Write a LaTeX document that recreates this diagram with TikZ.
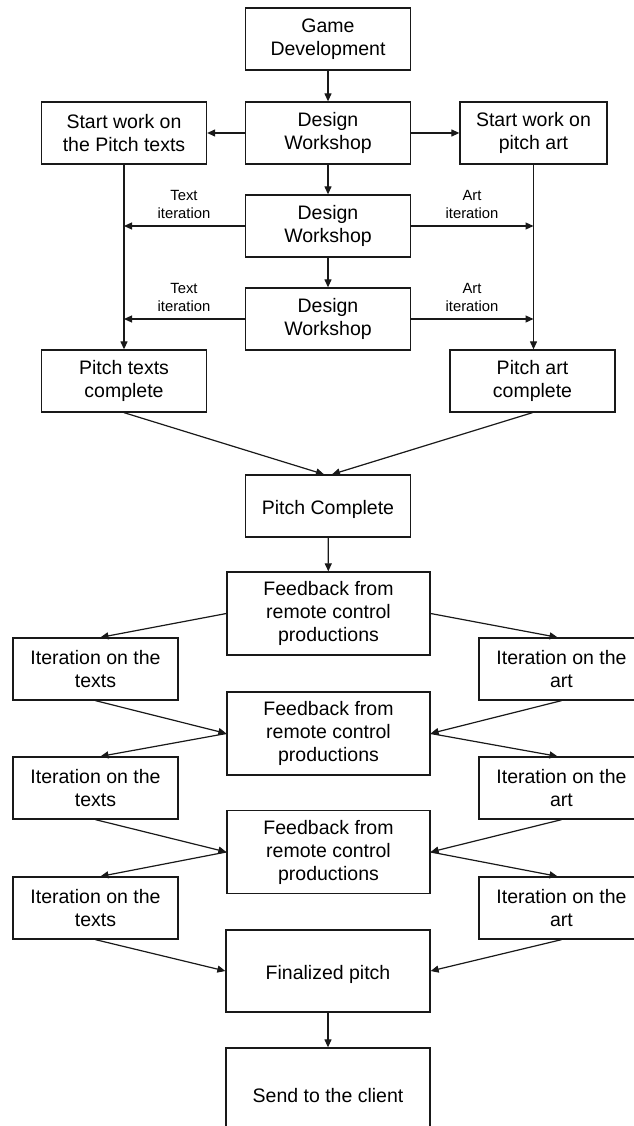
\documentclass[tikz,border=0pt]{standalone}
\usepackage{fontspec}
\setmainfont{Liberation Sans}
\usetikzlibrary{arrows.meta,calc}
\begin{document}
\begin{tikzpicture}[x=1pt,y=-1pt,
  box/.style={draw=black!90, line width=1.3pt, align=center, inner sep=0pt,
    minimum width=165pt, minimum height=62pt, font=\fontsize{19.5}{23}\selectfont,
    execute at begin node={\rule{0pt}{21pt}}},
  wide/.style={box, minimum width=203pt, minimum height=83pt},
  lbl/.style={align=center, inner sep=0pt, font=\fontsize{14.8}{18}\selectfont},
  conn/.style={line width=1.2pt, draw=black!90, -{Triangle[length=8pt,width=7pt]}}]
\useasboundingbox (0,0) rectangle (633,1126);
\fill[white] (0,0) rectangle (633,1126);

\node[box] (gd) at (328,39) {Game\\Development};
\node[box] (dw1) at (328,133) {Design\\Workshop};
\node[box] (st) at (124,133) {Start work on\\the Pitch texts};
\node[box, minimum width=147pt] (sa) at (533.5,133) {Start work on\\pitch art};
\node[box] (dw2) at (328,226) {Design\\Workshop};
\node[box] (dw3) at (328,319) {Design\\Workshop};
\node[box] (ptc) at (124,381) {Pitch texts\\complete};
\node[box] (pac) at (532.5,381) {Pitch art\\complete};
\node[box] (pc) at (328,506) {Pitch Complete};
\node[wide] (fb1) at (328.5,613.5) {Feedback from\\remote control\\productions};
\node[box] (it1) at (95.5,669) {Iteration on the\\texts};
\node[box] (ia1) at (561.5,669) {Iteration on the\\art};
\node[wide] (fb2) at (328.5,733.5) {Feedback from\\remote control\\productions};
\node[box] (it2) at (95.5,788) {Iteration on the\\texts};
\node[box] (ia2) at (561.5,788) {Iteration on the\\art};
\node[wide] (fb3) at (328.5,852) {Feedback from\\remote control\\productions};
\node[box] (it3) at (95.5,908) {Iteration on the\\texts};
\node[box] (ia3) at (561.5,908) {Iteration on the\\art};
\node[wide, minimum width=204pt, minimum height=82pt] (fin) at (328,971) {Finalized pitch};
\node[wide, minimum width=204pt, minimum height=88pt] (send) at (328,1092) {Send to the client};

\node[lbl] (tl2) at (184,204) {Text\\iteration};
\node[lbl] (al2) at (472,204) {Art\\iteration};
\node[lbl] (tl3) at (184,297) {Text\\iteration};
\node[lbl] (al3) at (472,297) {Art\\iteration};

\draw[conn] (gd) -- (dw1);
\draw[conn] (dw1) -- (st);
\draw[conn] (dw1) -- (sa);
\draw[conn] (dw1) -- (dw2);
\draw[conn] (dw2) -- (dw3);
\draw[conn] (st.south) -- (ptc.north);
\draw[conn] (sa.south) -- (sa.south |- pac.north);
\draw[conn] (dw2.west) -- (dw2.west -| st.south);
\draw[conn] (dw2.east) -- (dw2.east -| sa.south);
\draw[conn] (dw3.west) -- (dw3.west -| st.south);
\draw[conn] (dw3.east) -- (dw3.east -| sa.south);

\coordinate (pcl) at ($(pc.north)+(-4,0)$);
\coordinate (pcr) at ($(pc.north)+(4,0)$);
\draw[conn] (ptc.south) -- (pcl);
\draw[conn] (pac.south) -- (pcr);
\draw[conn] (pc) -- (fb1);

\coordinate (it1t) at ($(it1.north)+(5,0)$);
\coordinate (ia1t) at ($(ia1.north)+(-4,0)$);
\coordinate (it2t) at ($(it2.north)+(5,0)$);
\coordinate (ia2t) at ($(ia2.north)+(-4,0)$);
\coordinate (it3t) at ($(it3.north)+(5,0)$);
\coordinate (ia3t) at ($(ia3.north)+(-4,0)$);

\draw[conn] (fb1.west) -- (it1t);
\draw[conn] (fb1.east) -- (ia1t);
\draw[conn] (it1.south) -- (fb2.west);
\draw[conn] (ia1.south) -- (fb2.east);
\draw[conn] (fb2.west) -- (it2t);
\draw[conn] (fb2.east) -- (ia2t);
\draw[conn] (it2.south) -- (fb3.west);
\draw[conn] (ia2.south) -- (fb3.east);
\draw[conn] (fb3.west) -- (it3t);
\draw[conn] (fb3.east) -- (ia3t);
\draw[conn] (it3.south) -- (fin.west);
\draw[conn] (ia3.south) -- (fin.east);
\draw[conn] (fin) -- (send);
\end{tikzpicture}
\end{document}
